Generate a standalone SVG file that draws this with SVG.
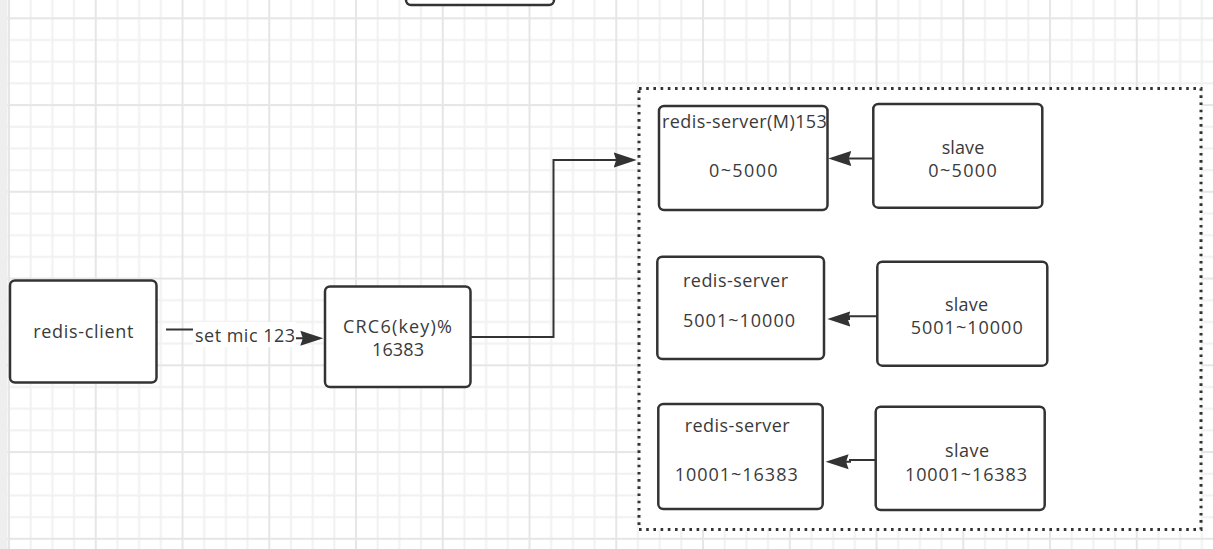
<svg xmlns="http://www.w3.org/2000/svg" width="1213" height="549" viewBox="0 0 1213 549">
<style>
.box{fill:#fff;stroke:#333;stroke-width:2.5}
.t{font-family:"Open Sans","Liberation Sans",sans-serif;font-size:18px;fill:#3a3a3a;text-anchor:middle}
.edge{fill:none;stroke:#333;stroke-width:2}
</style>
<defs>
<pattern id="grid" patternUnits="userSpaceOnUse" x="8" y="17.3" width="86.75" height="86.75">
<rect width="86.75" height="86.75" fill="#fff"/>
<rect x="21.69" y="0" width="2" height="86.75" fill="#f1f1f1"/>
<rect x="43.38" y="0" width="2" height="86.75" fill="#f1f1f1"/>
<rect x="65.06" y="0" width="2" height="86.75" fill="#f1f1f1"/>
<rect x="0" y="21.69" width="86.75" height="2" fill="#f1f1f1"/>
<rect x="0" y="43.38" width="86.75" height="2" fill="#f1f1f1"/>
<rect x="0" y="65.06" width="86.75" height="2" fill="#f1f1f1"/>
<rect x="0" y="0" width="2" height="86.75" fill="#e6e6e6"/>
<rect x="0" y="0" width="86.75" height="2" fill="#e6e6e6"/>
</pattern>
<marker id="arr" markerUnits="userSpaceOnUse" markerWidth="26" markerHeight="18" viewBox="0 0 26 18" refX="19" refY="9" orient="auto">
<path d="M0,1.5 L23,9 L0,16.5 L2.5,9 z" fill="#333"/>
</marker>
</defs>
<rect width="1213" height="549" fill="url(#grid)"/>
<rect x="0" y="0" width="7.5" height="549" fill="#eeeeee"/>

<g id="container">
<rect x="639" y="88.5" width="562" height="441" fill="#fff" stroke="#333" stroke-width="3" stroke-dasharray="2.6 4.6"/>
</g>

<g id="connectors">
<path class="edge" d="M166 329.5 H245 V338.3 H319.3" marker-end="url(#arr)"/>
<path class="edge" d="M470.7 337 H553.5 V160 H632.7" marker-end="url(#arr)"/>
<path class="edge" d="M873 158.5 H832.3" marker-end="url(#arr)"/>
<path class="edge" d="M877 316.3 H849 V319 H831.3" marker-end="url(#arr)"/>
<path class="edge" d="M875.7 460 H850 V461.7 H829.6" marker-end="url(#arr)"/>
<rect x="193" y="322" width="103" height="25" fill="#fff"/>
<text class="t" x="245" y="342" textLength="100">set mic 123</text>
</g>

<g id="top-box"><rect class="box" x="406" y="-20" width="148" height="25" rx="5"/></g>

<g id="redis-client">
<rect class="box" x="10" y="280.5" width="146.5" height="102" rx="5"/>
<text class="t" x="83.3" y="338.3" textLength="100">redis-client</text>
</g>

<g id="crc">
<rect class="box" x="325" y="286.5" width="145.5" height="100.5" rx="5"/>
<text class="t" x="397.5" y="333" textLength="109">CRC6(key)%</text>
<text class="t" x="398" y="356" textLength="52">16383</text>
</g>

<g id="master1">
<rect class="box" x="659" y="106" width="168.5" height="104" rx="5"/>
<text class="t" x="744.4" y="128" textLength="165">redis-server(M)153</text>
<text class="t" x="743.3" y="176.7" textLength="68.7">0~5000</text>
</g>

<g id="slave1">
<rect class="box" x="873.3" y="104" width="169" height="103.7" rx="5"/>
<text class="t" x="963" y="154.3" textLength="42.6">slave</text>
<text class="t" x="962.5" y="177.3" textLength="68.4">0~5000</text>
</g>

<g id="master2">
<rect class="box" x="657.3" y="256.7" width="166.7" height="102.3" rx="5"/>
<text class="t" x="735.5" y="286.7" textLength="105">redis-server</text>
<text class="t" x="739" y="327.3" textLength="112">5001~10000</text>
</g>

<g id="slave2">
<rect class="box" x="877.3" y="261.7" width="170" height="104" rx="5"/>
<text class="t" x="966.5" y="310.7" textLength="43">slave</text>
<text class="t" x="966.7" y="334" textLength="112">5001~10000</text>
</g>

<g id="master3">
<rect class="box" x="658.3" y="404" width="164.4" height="105" rx="5"/>
<text class="t" x="737.2" y="431.7" textLength="105">redis-server</text>
<text class="t" x="736.2" y="480.7" textLength="123">10001~16383</text>
</g>

<g id="slave3">
<rect class="box" x="875.7" y="406.7" width="169" height="103.3" rx="5"/>
<text class="t" x="967" y="456.7" textLength="44">slave</text>
<text class="t" x="966" y="480.7" textLength="122">10001~16383</text>
</g>
</svg>
